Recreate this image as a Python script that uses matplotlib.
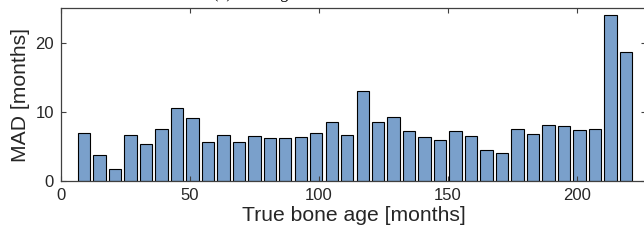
import numpy as np
import matplotlib
matplotlib.use('Agg')
import matplotlib.pyplot as plt

# bin centres of true bone age (months), 6-month bins
age = np.arange(9, 220, 6)
mad = [7.0, 3.7, 1.8, 6.6, 5.4, 7.5, 10.5, 9.1, 5.7, 6.6,
       5.6, 6.45, 6.2, 6.15, 6.35, 7.0, 8.55, 6.65, 13.0, 8.55,
       9.2, 7.2, 6.3, 6.0, 7.2, 6.45, 4.45, 4.0, 7.45, 6.8,
       8.15, 7.95, 7.35, 7.45, 23.95, 18.65]
xticks = [0, 50, 100, 150, 200]
yticks = [0, 10, 20]

plt.rcParams['font.family'] = ['Liberation Sans', 'DejaVu Sans']

fig = plt.figure(figsize=(6.44, 2.43), dpi=100)
ax = fig.add_axes([0.0943, 0.255, 0.909, 0.712])

ax.bar(age, mad, width=4.8, color='#7aa0cb', edgecolor='black', linewidth=0.8)

ax.set_xlim(0, 226.8)
ax.set_ylim(0, 25)
ax.set_xticks(xticks)
ax.set_yticks(yticks)
ax.tick_params(direction='in', length=3.5, width=0.8, color='#404040',
               labelsize=12, top=True, right=True, pad=5)
for s in ax.spines.values():
    s.set_color('#404040')
    s.set_linewidth(0.9)

ax.set_xlabel('True bone age [months]', fontsize=15.2, color='#262626', labelpad=2)
ax.set_ylabel('MAD [months]', fontsize=15.2, color='#262626', labelpad=4)
for lab in ax.get_xticklabels() + ax.get_yticklabels():
    lab.set_color('#262626')

# title sits mostly above the cropped top edge, only descenders show
fig.text(213 / 644, 1.0 + 2.5 / 243, '(b) Bone age estimation error',
         fontsize=11.5, family='Liberation Serif', ha='left', va='baseline')

fig.savefig('out.png', dpi=100)
